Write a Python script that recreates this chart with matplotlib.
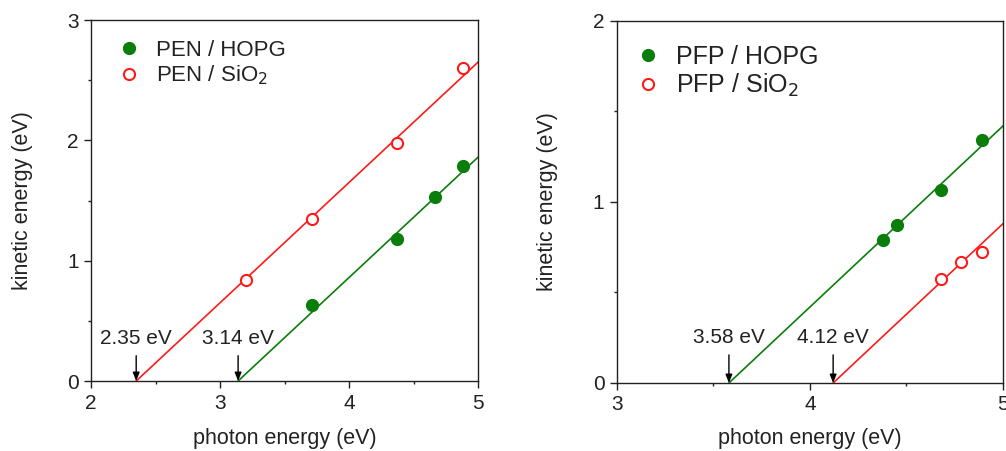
import numpy as np
import matplotlib
matplotlib.use("Agg")
import matplotlib.pyplot as plt
from matplotlib.ticker import MultipleLocator

plt.rcParams['font.family'] = ['Liberation Sans', 'DejaVu Sans']

# ---- data (left panel: PEN) ----
pen_hopg_x = [3.71, 4.37, 4.67, 4.88]
pen_hopg_y = [0.63, 1.18, 1.53, 1.79]
pen_sio2_x = [3.20, 3.71, 4.37, 4.88]
pen_sio2_y = [0.84, 1.35, 1.98, 2.60]
pen_thresholds = [3.14, 2.35]   # HOPG, SiO2
pen_labels = ["PEN / HOPG", "PEN / SiO$_2$"]

# ---- data (right panel: PFP) ----
pfp_hopg_x = [4.38, 4.45, 4.68, 4.89]
pfp_hopg_y = [0.79, 0.875, 1.065, 1.34]
pfp_sio2_x = [4.68, 4.78, 4.89]
pfp_sio2_y = [0.575, 0.67, 0.725]
pfp_thresholds = [3.58, 4.12]   # HOPG, SiO2
pfp_labels = ["PFP / HOPG", "PFP / SiO$_2$"]

slope = 1.0
green = "#0a7d0a"
red = "#ff1a1a"
txt = "#222222"
FS = 15

fig = plt.figure(figsize=(10.06, 4.51), dpi=100)
axL = fig.add_axes([0.0905, 0.1552, 0.3847, 0.8004])
axR = fig.add_axes([0.6133, 0.1508, 0.3837, 0.8027])


def style(ax, xlim, ylim):
    ax.set_xlim(*xlim)
    ax.set_ylim(*ylim)
    ax.xaxis.set_major_locator(MultipleLocator(1))
    ax.yaxis.set_major_locator(MultipleLocator(1))
    ax.xaxis.set_minor_locator(MultipleLocator(0.5))
    ax.yaxis.set_minor_locator(MultipleLocator(0.5))
    ax.tick_params(which='major', direction='out', length=5, width=1, labelsize=FS,
                   colors=txt, pad=4)
    ax.tick_params(which='minor', direction='out', length=2.5, width=1, colors=txt)
    for s in ax.spines.values():
        s.set_linewidth(1.0)
        s.set_color(txt)
    ax.set_xlabel("photon energy (eV)", fontsize=15.5, color=txt)
    ax.set_ylabel("kinetic energy (eV)", fontsize=15.5, color=txt)


def fit_line(ax, e0, xmax, color):
    xs = np.array([e0, xmax])
    ax.plot(xs, slope * (xs - e0), color=color, lw=1.2, zorder=2)


def arrow(ax, e0, y_top, y_tip, y_text):
    ax.annotate("", xy=(e0, y_tip), xytext=(e0, y_top),
                arrowprops=dict(arrowstyle="-|>,head_length=0.5,head_width=0.2",
                                color="black", lw=1.0, shrinkA=0, shrinkB=0))
    ax.text(e0, y_text, f"{e0:.2f} eV", ha='center', va='center', fontsize=FS, color=txt)


# Left panel
style(axL, (2, 5), (0, 3))
fit_line(axL, pen_thresholds[1], 5, red)
fit_line(axL, pen_thresholds[0], 5, green)
axL.plot(pen_hopg_x, pen_hopg_y, 'o', color=green, ms=8.5, mec=green, label=pen_labels[0], zorder=3)
axL.plot(pen_sio2_x, pen_sio2_y, 'o', mfc='white', mec=red, mew=1.5, ms=8, label=pen_labels[1], zorder=3)
for e0 in pen_thresholds:
    arrow(axL, e0, 0.21, 0.0, 0.355)
leg = axL.legend(loc='upper left', bbox_to_anchor=(0.018, 0.989), frameon=False, fontsize=16,
                 handletextpad=0.5, labelspacing=0.15, handlelength=1.4, borderaxespad=0.3)
for t in leg.get_texts():
    t.set_color(txt)
axL.yaxis.set_label_coords(-0.15, 0.5)
axL.xaxis.set_label_coords(0.5, -0.13)

# Right panel
style(axR, (3, 5), (0, 2))
fit_line(axR, pfp_thresholds[0], 5, green)
fit_line(axR, pfp_thresholds[1], 5, red)
axR.plot(pfp_hopg_x, pfp_hopg_y, 'o', color=green, ms=8.5, mec=green, label=pfp_labels[0], zorder=3)
axR.plot(pfp_sio2_x, pfp_sio2_y, 'o', mfc='white', mec=red, mew=1.5, ms=8, label=pfp_labels[1], zorder=3)
for e0 in pfp_thresholds:
    arrow(axR, e0, 0.155, 0.0, 0.25)
leg = axR.legend(loc='upper left', bbox_to_anchor=(-0.007, 0.983), frameon=False, fontsize=18,
                 handletextpad=0.45, labelspacing=0.12, handlelength=1.3, borderaxespad=0.3)
for t in leg.get_texts():
    t.set_color(txt)
axR.yaxis.set_label_coords(-0.153, 0.5)
axR.xaxis.set_label_coords(0.5, -0.125)

fig.savefig("out.png", dpi=100)
